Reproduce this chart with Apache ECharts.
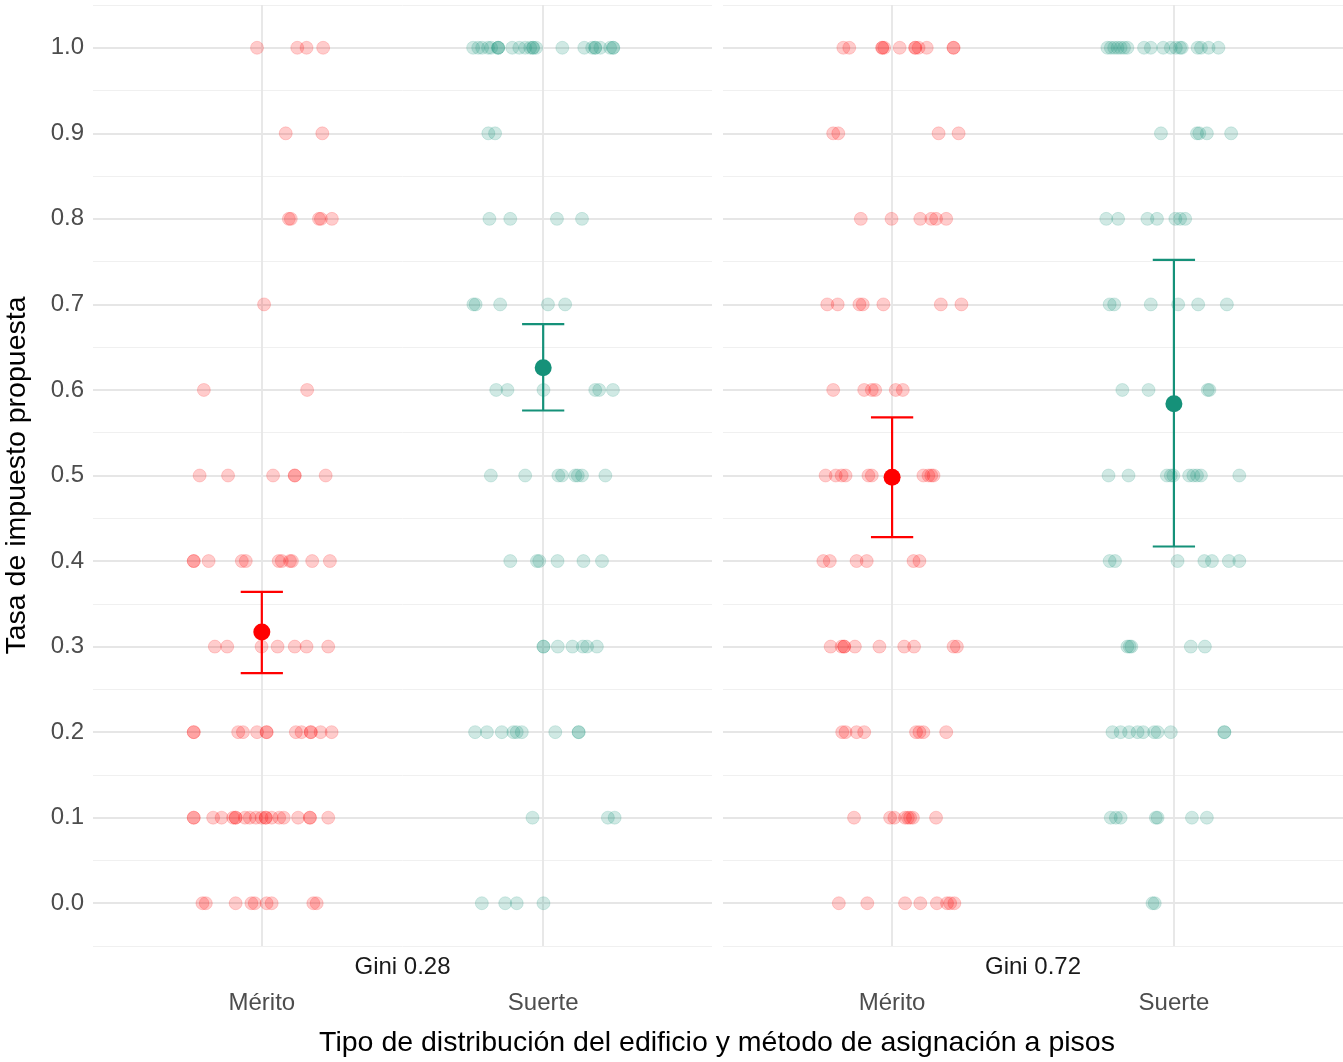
<!DOCTYPE html>
<html>
<head>
<meta charset="utf-8">
<script src="https://cdn.jsdelivr.net/npm/echarts@6/dist/echarts.min.js"></script>
<style>
html,body{margin:0;padding:0;background:#fff;}
#chart{width:1343px;height:1062px;}
</style>
</head>
<body>
<div id="chart"></div>
<script>
// ---------- DATA ----------
const categories = ['Mérito', 'Suerte'];
const panels = ['Gini 0.28', 'Gini 0.72'];
const yTicks = [0.0, 0.1, 0.2, 0.3, 0.4, 0.5, 0.6, 0.7, 0.8, 0.9, 1.0];
const yTitle = 'Tasa de impuesto propuesta';
const xTitle = 'Tipo de distribución del edificio y método de asignación a pisos';

// Each row: [tax rate, [horizontal jitter offsets (category units)]]
const p1Merito = [
  [1.0, [-0.017, 0.126, 0.159, 0.218]],
  [0.9, [0.085, 0.215]],
  [0.8, [0.096, 0.103, 0.203, 0.210, 0.249]],
  [0.7, [0.008]],
  [0.6, [-0.206, 0.161]],
  [0.5, [-0.221, -0.120, 0.040, 0.117, 0.117, 0.227]],
  [0.4, [-0.242, -0.242, -0.189, -0.071, -0.057, 0.060, 0.071, 0.100, 0.107, 0.179, 0.242]],
  [0.3, [-0.167, -0.123, -0.001, 0.056, 0.117, 0.159, 0.236]],
  [0.2, [-0.242, -0.242, -0.084, -0.067, -0.017, 0.017, 0.017, 0.121, 0.141, 0.174, 0.174, 0.209, 0.248]],
  [0.1, [-0.242, -0.242, -0.173, -0.143, -0.102, -0.093, -0.093, -0.060, -0.043, -0.021, -0.001, 0.014, 0.014, 0.035, 0.062, 0.078, 0.129, 0.171, 0.171, 0.236]],
  [0.0, [-0.211, -0.199, -0.093, -0.037, -0.025, 0.017, 0.035, 0.183, 0.195]]
];
const p1Suerte = [
  [1.0, [-0.249, -0.231, -0.217, -0.196, -0.185, -0.160, -0.160, -0.160, -0.110, -0.085, -0.064, -0.046, -0.036, -0.036, -0.025, 0.068, 0.146, 0.174, 0.185, 0.185, 0.203, 0.238, 0.249, 0.249]],
  [0.9, [-0.195, -0.171]],
  [0.8, [-0.191, -0.117, 0.049, 0.138]],
  [0.7, [-0.248, -0.240, -0.153, 0.017, 0.078]],
  [0.6, [-0.167, -0.127, 0.001, 0.185, 0.199, 0.248]],
  [0.5, [-0.186, -0.064, 0.054, 0.067, 0.114, 0.123, 0.138, 0.221]],
  [0.4, [-0.117, -0.022, -0.014, 0.051, 0.143, 0.209]],
  [0.3, [0.001, 0.001, 0.052, 0.104, 0.141, 0.156, 0.191]],
  [0.2, [-0.242, -0.200, -0.147, -0.106, -0.094, -0.076, 0.043, 0.126, 0.126]],
  [0.1, [-0.038, 0.230, 0.254]],
  [0.0, [-0.218, -0.135, -0.094, 0.001]]
];
const p2Merito = [
  [1.0, [-0.173, -0.152, -0.035, -0.035, -0.028, 0.027, 0.082, 0.082, 0.094, 0.123, 0.218, 0.218]],
  [0.9, [-0.209, -0.191, 0.165, 0.236]],
  [0.8, [-0.111, -0.002, 0.100, 0.139, 0.156, 0.192]],
  [0.7, [-0.230, -0.193, -0.116, -0.104, -0.031, 0.173, 0.246]],
  [0.6, [-0.209, -0.099, -0.072, -0.060, 0.013, 0.038]],
  [0.5, [-0.236, -0.200, -0.179, -0.165, -0.084, -0.072, 0.111, 0.129, 0.139, 0.147]],
  [0.4, [-0.244, -0.221, -0.126, -0.090, 0.076, 0.097]],
  [0.3, [-0.218, -0.179, -0.170, -0.170, -0.132, -0.045, 0.043, 0.078, 0.218, 0.230]],
  [0.2, [-0.177, -0.165, -0.126, -0.099, 0.085, 0.097, 0.111, 0.192]],
  [0.1, [-0.135, -0.007, 0.008, 0.046, 0.056, 0.064, 0.074, 0.156]],
  [0.0, [-0.189, -0.088, 0.046, 0.100, 0.159, 0.195, 0.206, 0.221]]
];
const p2Suerte = [
  [1.0, [-0.236, -0.224, -0.212, -0.200, -0.189, -0.177, -0.165, -0.106, -0.082, -0.038, -0.011, 0.007, 0.022, 0.028, 0.084, 0.096, 0.123, 0.158]],
  [0.9, [-0.046, 0.082, 0.090, 0.117, 0.203]],
  [0.8, [-0.240, -0.198, -0.094, -0.060, 0.005, 0.022, 0.040]],
  [0.7, [-0.228, -0.212, -0.082, 0.015, 0.086, 0.188]],
  [0.6, [-0.183, -0.090, 0.120, 0.126]],
  [0.5, [-0.232, -0.161, -0.025, -0.011, -0.002, 0.054, 0.069, 0.082, 0.096, 0.232]],
  [0.4, [-0.228, -0.209, 0.013, 0.108, 0.135, 0.195, 0.232]],
  [0.3, [-0.165, -0.157, -0.151, 0.060, 0.110]],
  [0.2, [-0.218, -0.189, -0.159, -0.129, -0.109, -0.070, -0.058, -0.011, 0.179, 0.179]],
  [0.1, [-0.224, -0.206, -0.189, -0.064, -0.058, 0.064, 0.117]],
  [0.0, [-0.076, -0.068]]
];

// Means and 95% CI per panel: [Mérito, Suerte]
const means = [[0.317, 0.626], [0.498, 0.584]];
const ciLow = [[0.269, 0.576], [0.428, 0.417]];
const ciHigh = [[0.364, 0.677], [0.568, 0.752]];

// ---------- STYLE ----------
const colors = ['#FF0000', '#159179'];
const alphaColors = ['rgba(255,0,0,0.2)', 'rgba(21,145,121,0.2)'];
const FONT = '"Liberation Sans", Arial, Helvetica, sans-serif';

function toPoints(rows, catIdx) {
  const out = [];
  rows.forEach(([y, offs]) => offs.forEach(o => out.push([catIdx + 1 + o, y])));
  return out;
}

const groups = [[p1Merito, p1Suerte], [p2Merito, p2Suerte]];
const grids = [
  { left: 93, top: 5, width: 619, height: 941 },
  { left: 723, top: 5, width: 620, height: 941 }
];

const xAxes = [], yAxes = [], series = [];
panels.forEach((pname, pi) => {
  xAxes.push({
    type: 'value', gridIndex: pi, min: 0.4, max: 2.6,
    axisLine: { show: false }, axisTick: { show: false },
    splitLine: { show: false },
    axisLabel: {
      customValues: [1, 2],
      formatter: v => categories[Math.round(v) - 1] || '',
      fontFamily: FONT, fontSize: 24, color: '#4d4d4d', margin: 45
    },
    name: pname, nameLocation: 'middle', nameGap: 9, nameMoveOverlap: false,
    nameTextStyle: { fontFamily: FONT, fontSize: 24, color: '#1a1a1a', verticalAlign: 'top' }
  });
  yAxes.push({
    type: 'value', gridIndex: pi, min: -0.05, max: 1.05, interval: 0.05,
    axisLine: { show: false }, axisTick: { show: false },
    splitLine: { show: true, lineStyle: { color: '#f0f0f0', width: 1 } },
    axisLabel: {
      show: pi === 0,
      customValues: yTicks,
      formatter: v => v.toFixed(1),
      fontFamily: FONT, fontSize: 24, color: '#4d4d4d', margin: 9
    },
    name: pi === 0 ? yTitle : '',
    nameLocation: 'middle', nameGap: 61, nameRotate: 90, nameMoveOverlap: false,
    nameTextStyle: { fontFamily: FONT, fontSize: 28.5, color: '#000' }
  });
  // major gridlines
  series.push({
    type: 'scatter', xAxisIndex: pi, yAxisIndex: pi, data: [], z: 1, silent: true,
    markLine: {
      silent: true, symbol: 'none', animation: false, z: 1,
      label: { show: false },
      emphasis: { disabled: true },
      lineStyle: { color: '#e6e6e6', width: 1.8, type: 'solid' },
      data: yTicks.map(v => ({ yAxis: v })).concat([{ xAxis: 1 }, { xAxis: 2 }])
    }
  });
  groups[pi].forEach((rows, ci) => {
    series.push({
      type: 'scatter', xAxisIndex: pi, yAxisIndex: pi, z: 2,
      symbol: 'circle', symbolSize: 13, animation: false,
      itemStyle: { color: alphaColors[ci], borderColor: alphaColors[ci], borderWidth: 0.8, opacity: 1 },
      data: toPoints(rows, ci)
    });
  });
  // error bars
  series.push({
    type: 'custom', xAxisIndex: pi, yAxisIndex: pi, z: 3, animation: false,
    encode: { x: 0, y: [1, 2] },
    data: categories.map((c, ci) => [ci + 1, ciLow[pi][ci], ciHigh[pi][ci], ci]),
    renderItem: (params, api) => {
      const x = api.value(0), lo = api.value(1), hi = api.value(2), ci = api.value(3);
      const a = api.coord([x, lo]), b = api.coord([x, hi]);
      const hw = api.size([0.075, 0])[0];
      const st = { stroke: colors[ci], lineWidth: 2.2 };
      return {
        type: 'group', children: [
          { type: 'line', shape: { x1: a[0], y1: a[1], x2: b[0], y2: b[1] }, style: st },
          { type: 'line', shape: { x1: a[0] - hw, y1: a[1], x2: a[0] + hw, y2: a[1] }, style: st },
          { type: 'line', shape: { x1: b[0] - hw, y1: b[1], x2: b[0] + hw, y2: b[1] }, style: st }
        ]
      };
    }
  });
  // means
  categories.forEach((c, ci) => {
    series.push({
      type: 'scatter', xAxisIndex: pi, yAxisIndex: pi, z: 4, animation: false,
      symbol: 'circle', symbolSize: 17,
      itemStyle: { color: colors[ci], opacity: 1 },
      data: [[ci + 1, means[pi][ci]]]
    });
  });
});

const chart = echarts.init(document.getElementById('chart'), null, { renderer: 'canvas' });
chart.setOption({
  animation: false,
  backgroundColor: '#ffffff',
  title: {
    text: xTitle, left: 717, top: 1029, textAlign: 'center', padding: 0,
    textStyle: { fontFamily: FONT, fontSize: 28.5, fontWeight: 'normal', color: '#000' }
  },
  grid: grids,
  xAxis: xAxes,
  yAxis: yAxes,
  series: series
});
</script>
</body>
</html>
